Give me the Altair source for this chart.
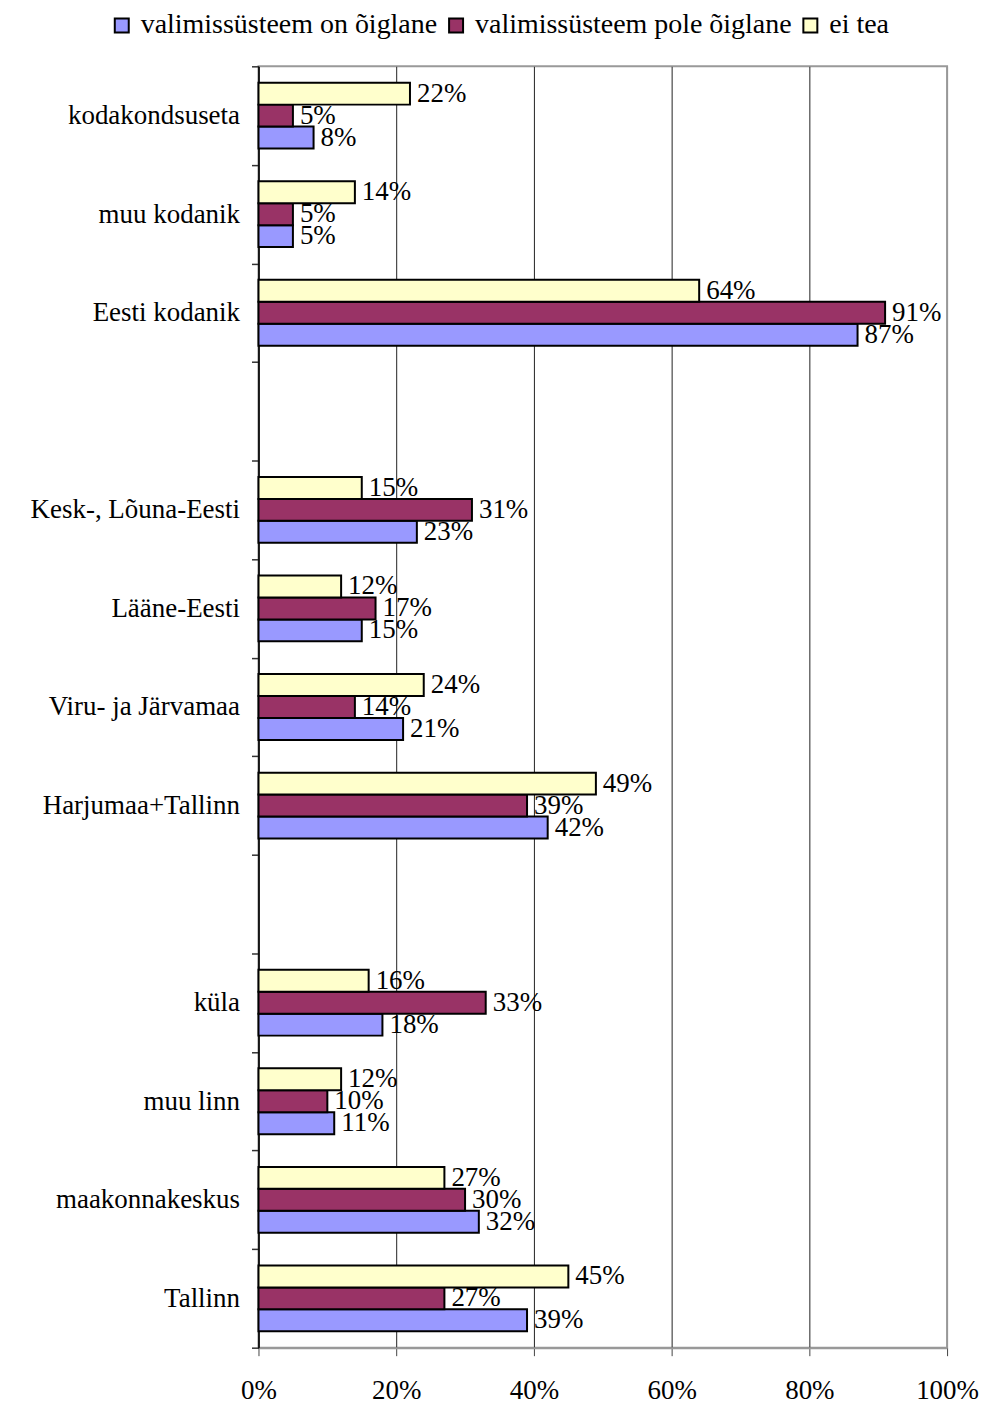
import altair as alt
import pandas as pd

categories = ["kodakondsuseta", "muu kodanik", "Eesti kodanik", " ",
              "Kesk-, Lõuna-Eesti", "Lääne-Eesti", "Viru- ja Järvamaa", "Harjumaa+Tallinn", "  ",
              "küla", "muu linn", "maakonnakeskus", "Tallinn"]
series = ["valimissüsteem on õiglane", "valimissüsteem pole õiglane", "ei tea"]
colors = ["#9999FF", "#993366", "#FFFFCC"]

on_oiglane = [8, 5, 87, None, 23, 15, 21, 42, None, 18, 11, 32, 39]
pole_oiglane = [5, 5, 91, None, 31, 17, 14, 39, None, 33, 10, 30, 27]
ei_tea = [22, 14, 64, None, 15, 12, 24, 49, None, 16, 12, 27, 45]

x_ticks = [0, 20, 40, 60, 80, 100]

rows = []
for s, vals in zip(series, [on_oiglane, pole_oiglane, ei_tea]):
    for c, v in zip(categories, vals):
        if v is not None:
            rows.append({"cat": c, "series": s, "value": v, "label": f"{v}%"})
df = pd.DataFrame(rows)

FONT = "Liberation Serif"
FS = 27

y_enc = alt.Y("cat:N", sort=categories,
              scale=alt.Scale(domain=categories, paddingInner=0, paddingOuter=0),
              axis=alt.Axis(title=None, tickBand="extent", domainColor="black", domainWidth=1.5,
                            tickColor="#333", tickSize=7, tickWidth=1.5, labelFontSize=FS, labelFont=FONT,
                            labelColor="black", labelPadding=12, minExtent=251, maxExtent=251,
                            labelLimit=400, grid=False))
yoff_enc = alt.YOffset("series:N",
                       scale=alt.Scale(domain=series[::-1], paddingInner=0, paddingOuter=0.745))
x_enc = alt.X("value:Q", scale=alt.Scale(domain=[0, 100], nice=False),
              axis=alt.Axis(title=None, values=x_ticks, labelExpr="datum.value + '%'",
                            grid=True,
                            gridColor={"condition": {"test": "datum.value >= 100", "value": "#999999"}, "value": "#222222"},
                            gridWidth=1, domainColor="#999999", domainWidth=2,
                            tickColor="#444", tickSize=8, labelFontSize=FS, labelFont=FONT,
                            labelColor="black", labelPadding=22, labelFlush=False))

bars = alt.Chart(df).mark_bar(stroke="black", strokeWidth=2).encode(
    y=y_enc, yOffset=yoff_enc, x=x_enc,
    color=alt.Color("series:N", scale=alt.Scale(domain=series, range=colors),
                    legend=alt.Legend(title=None, orient="none", legendX=-151, legendY=-55,
                                      direction="horizontal", symbolType="square", symbolSize=196,
                                      symbolStrokeColor="black", symbolStrokeWidth=2,
                                      labelFontSize=28, labelFont=FONT, labelColor="black",
                                      columnPadding=4, labelOffset=5, labelLimit=500))
)

texts = alt.Chart(df).mark_text(align="left", baseline="middle", dx=7, fontSize=FS,
                                font=FONT, color="black").encode(
    y=y_enc, yOffset=yoff_enc, x=x_enc, text="label:N"
)

chart = alt.layer(bars, texts).properties(
    width=690, height=1284,
    padding={"left": 0, "top": 2, "right": 0, "bottom": 0}
).configure(background="white", font=FONT).configure_view(stroke="#999999", strokeWidth=2)

chart.save("out.html", embed_options={"renderer": "svg", "actions": False})
